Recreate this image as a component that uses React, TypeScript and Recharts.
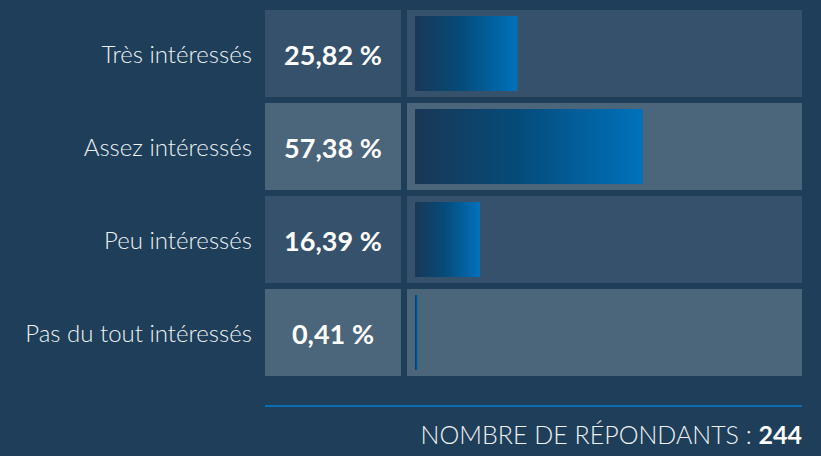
import React from "react";
import { BarChart, Bar, XAxis, YAxis } from "recharts";

const CATEGORIES = [
  "Très intéressés",
  "Assez intéressés",
  "Peu intéressés",
  "Pas du tout intéressés",
];
const VALUES = [25.82, 57.38, 16.39, 0.41];
const PCT_LABELS = ["25,82\u202F%", "57,38\u202F%", "16,39\u202F%", "0,41\u202F%"];
const RESPONDENTS = 244;

const BG = "#1e3e59";
const ROW_DARK = "#35516b";
const ROW_LIGHT = "#4b657b";
const LINE_BLUE = "#0a6db3";
const FONT = "Lato, 'Open Sans', sans-serif";

const W = 821;
const H = 456;
const AXIS_W = 415;

const data = CATEGORIES.map((c, i) => ({ c, v: VALUES[i], pct: PCT_LABELS[i] }));

function RowShape(props: any) {
  const { x, y, width, height, index } = props;
  const fill = index % 2 === 0 ? ROW_DARK : ROW_LIGHT;
  return (
    <g>
      <rect x={x - 8} y={y - 6} width={395} height={height + 12} fill={fill} />
      <rect x={x} y={y} width={Math.max(width, 2.7)} height={height} fill="url(#barGrad)" />
    </g>
  );
}

function LabelTick(props: any) {
  const { y, payload, index } = props;
  const i = payload?.index ?? index;
  const fill = i % 2 === 0 ? ROW_DARK : ROW_LIGHT;
  return (
    <g>
      <text
        x={252}
        y={y}
        textAnchor="end"
        dominantBaseline="central"
        fill="#eef2f5"
        fontFamily={FONT}
        fontWeight={300}
        fontSize={24}
      >
        {payload.value}
      </text>
      <rect x={265} y={y - 43.5} width={136} height={87} fill={fill} />
      <text
        x={333}
        y={y + 1}
        textAnchor="middle"
        dominantBaseline="central"
        fill="#ffffff"
        fontFamily={FONT}
        fontWeight={700}
        fontSize={27}
      >
        {PCT_LABELS[i]}
      </text>
    </g>
  );
}

export default function App() {
  return (
    <div style={{ position: "absolute", left: 0, top: 0, width: W, height: H, background: BG, overflow: "hidden" }}>
      <BarChart
        width={W}
        height={H}
        data={data}
        layout="vertical"
        margin={{ top: 7, right: 9, bottom: 77, left: 0 }}
        barSize={75}
      >
        <defs>
          <linearGradient id="barGrad" x1="0" y1="0" x2="1" y2="0">
            <stop offset="0%" stopColor="#1a3756" />
            <stop offset="45%" stopColor="#054b79" />
            <stop offset="100%" stopColor="#0072bc" />
          </linearGradient>
        </defs>
        <XAxis type="number" domain={[0, 100]} hide />
        <YAxis
          type="category"
          dataKey="c"
          width={AXIS_W}
          axisLine={false}
          tickLine={false}
          interval={0}
          tick={<LabelTick />}
        />
        <Bar dataKey="v" shape={<RowShape />} isAnimationActive={false} />
      </BarChart>
      <div
        style={{
          position: "absolute",
          left: 265,
          top: 405,
          width: 537,
          height: 2,
          background: LINE_BLUE,
        }}
      />
      <div
        style={{
          position: "absolute",
          right: 19,
          top: 419,
          fontFamily: FONT,
          fontSize: 25,
          fontWeight: 300,
          color: "#eef2f5",
          whiteSpace: "nowrap",
        }}
      >
        NOMBRE DE RÉPONDANTS : <b style={{ fontWeight: 700, color: "#fff" }}>{RESPONDENTS}</b>
      </div>
    </div>
  );
}
